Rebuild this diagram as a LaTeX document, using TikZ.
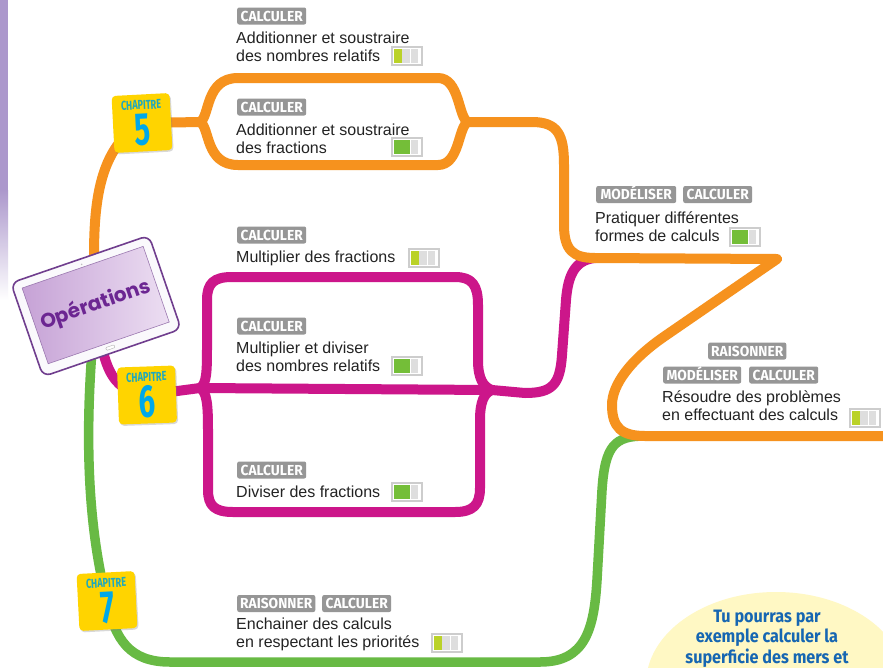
\documentclass[tikz,border=0pt]{standalone}
\usepackage{fontspec}
\setmainfont{Liberation Sans}
\newfontfamily\tagfont[FakeStretch=0.95]{Fira Sans}
\newfontfamily\chapfont[FakeStretch=0.7]{Fira Sans}
\newfontfamily\numfont[FakeStretch=0.64]{Fira Sans}
\newfontfamily\bubfont[FakeStretch=0.9]{Fira Sans}
\newfontfamily\tabfont{Poppins}
\usetikzlibrary{calc,shadows}
\definecolor{orng}{RGB}{246,146,30}
\definecolor{mgnt}{RGB}{204,22,138}
\definecolor{grn}{RGB}{104,186,68}
\definecolor{bdg}{RGB}{255,212,0}
\definecolor{chapteal}{RGB}{30,168,190}
\definecolor{chapcyan}{RGB}{0,168,232}
\definecolor{taggray}{RGB}{150,150,150}
\definecolor{txtgray}{RGB}{35,35,35}
\definecolor{bubyel}{RGB}{255,248,196}
\definecolor{bubblue}{RGB}{22,102,178}
\definecolor{tabpurple}{RGB}{112,62,142}
\definecolor{tabtxt}{RGB}{108,38,146}
\definecolor{scrL}{RGB}{198,162,214}
\definecolor{scrR}{RGB}{236,222,242}
\definecolor{tabwhite}{RGB}{250,249,252}
\definecolor{strip}{RGB}{172,152,204}
\definecolor{lvon1}{RGB}{186,210,40}
\definecolor{lvon2}{RGB}{116,190,56}
\definecolor{lvoff}{RGB}{222,222,222}
\definecolor{lvborder}{RGB}{205,205,205}
\newcommand\txtlines[1]{\begin{tabular}[t]{@{}l@{}}#1\end{tabular}}
\newcommand\lvl[4]{%
  \node[lvlbox] (#1) at (#2,#3) {};
  \foreach \k in {0,1,2}{%
    \ifnum\k<#4\relax\def\lvc{lvon#4}\else\def\lvc{lvoff}\fi
    \fill[fill=\lvc] ($(#1.west)+({2.6+\k*8.4},-7)$) rectangle +(7.6,14);
  }%
}
\pgfdeclarelayer{back}
\pgfdeclarelayer{lines}
\pgfsetlayers{back,lines,main}
\tikzset{
  oline/.style={line width=10pt, draw=orng, line cap=round, line join=round},
  mline/.style={line width=10pt, draw=mgnt, line cap=round, line join=round},
  gline/.style={line width=9.5pt, draw=grn, line cap=round, line join=round},
  badge/.style={fill=bdg, rounded corners=4pt, minimum width=58pt, minimum height=57pt, inner sep=0pt,
    drop shadow={shadow xshift=1.2pt, shadow yshift=-1.5pt, opacity=0.3}},
  chaptxt/.style={text=chapteal, inner sep=0pt, font=\chapfont\bfseries\fontsize{13}{13}\selectfont},
  chapnum/.style={text=chapcyan, inner sep=0pt, font=\numfont\bfseries\fontsize{46}{46}\selectfont},
  tagbox/.style={fill=taggray, text=white, rounded corners=2pt, inner xsep=3pt, inner ysep=0pt,
    minimum height=17pt, minimum width=#1, text height=10.3pt, text depth=0pt, anchor=west,
    font=\tagfont\bfseries\fontsize{14.5}{15}\selectfont},
  tagbox/.default=69pt,
  item/.style={anchor=base west, inner sep=0pt, text=txtgray, font=\fontsize{16}{18}\selectfont},
  lvlbox/.style={draw=lvborder, line width=1.2pt, fill=white, minimum width=30pt, minimum height=18pt, inner sep=0pt},
  tabframe/.style={fill=tabwhite, draw=tabpurple, line width=1.6pt, rounded corners=8pt,
    minimum width=146pt, minimum height=99pt, inner sep=0pt},
  tabscreen/.style={left color=scrL, right color=scrR, draw=tabpurple!70, line width=0.6pt,
    minimum width=128pt, minimum height=80pt, inner sep=0pt},
  tabbtn/.style={draw=black!30, fill=white, rounded corners=1pt, minimum width=9pt, minimum height=3pt, inner sep=0pt},
  tabcam/.style={circle, fill=black!25, minimum size=1.8pt, inner sep=0pt},
  tabtext/.style={text=tabtxt, inner sep=0pt, font=\tabfont\bfseries\fontsize{20}{20}\selectfont},
  bubtext/.style={anchor=base, inner sep=0pt, text=bubblue, font=\bubfont\bfseries\fontsize{18}{20.5}\selectfont},
}
\begin{document}
\begin{tikzpicture}[x=1pt,y=-1pt]
\useasboundingbox (0,0) rectangle (883,667);
\begin{pgfonlayer}{back}
  \fill[white] (0,0) rectangle (883,667);
  \fill[strip] (0,0) rectangle (8,190);
  \shade[top color=strip, bottom color=white] (0,190) rectangle (8,300);
  \fill[bubyel] (776,684) ellipse [x radius=130pt, y radius=92pt];
\end{pgfonlayer}

% junction coordinates
\coordinate (o5fork) at (200,122);
\coordinate (o5join) at (468,122);
\coordinate (opm) at (595,258);
\coordinate (otip) at (777,259);
\coordinate (ogm) at (645,436);
\coordinate (oend) at (895,436);
\coordinate (m6fork) at (200,388);
\coordinate (m6join) at (492,390);

% tablet
\begin{scope}[shift={(96,306)}, rotate=19, transform shape]
  \node[tabframe] (tab) at (0,0) {};
  \node[tabscreen] (scr) at (0,-1) {};
  \node[tabbtn] (btn) at (0,44) {};
  \node[tabcam] (cam) at (0,-44) {};
  \node[tabtext] (op) at (0,-1) {Opérations};
\end{scope}

% chapter badges
\begin{scope}[shift={(142,123)}, rotate=3, transform shape]
  \node[badge] (b5) at (0,0) {};
  \node[chaptxt] (b5t) at (0,-18) {CHAPITRE};
  \node[chapnum] (b5n) at (0,7) {5};
\end{scope}
\begin{scope}[shift={(147,395)}, rotate=2, transform shape]
  \node[badge] (b6) at (0,0) {};
  \node[chaptxt] (b6t) at (0,-18) {CHAPITRE};
  \node[chapnum] (b6n) at (0,7) {6};
\end{scope}
\begin{scope}[shift={(107,601)}, rotate=3, transform shape]
  \node[badge] (b7) at (0,0) {};
  \node[chaptxt] (b7t) at (0,-18) {CHAPITRE};
  \node[chapnum] (b7n) at (0,7) {7};
\end{scope}

% connectors
\begin{pgfonlayer}{lines}
  % green
  \draw[gline] (tab.center) .. controls (84,420) and (86,520) .. (b7.center)
     .. controls (115,640) and (130,662) .. (170,662) -- (540,662)
     .. controls (585,662) and (594,630) .. (597,580) -- (602,490)
     .. controls (605,445) and (615,436) .. (ogm);
  % magenta
  \draw[mline] (tab.center) .. controls (102,360) and (108,392) .. (b6.center);
  \draw[mline] (b6.center) -- (m6fork);
  \draw[mline] (m6fork) .. controls (207,384) and (207,370) .. (207,345) -- (207,300)
     .. controls (207,283) and (214,277) .. (232,277) -- (455,277)
     .. controls (472,277) and (478,285) .. (478,305) -- (478,360)
     .. controls (478,378) and (483,387) .. (m6join);
  \draw[mline] (m6fork) -- (m6join);
  \draw[mline] (m6fork) .. controls (207,392) and (208,405) .. (208,430) -- (208,490)
     .. controls (208,506) and (215,512) .. (233,512) -- (455,512)
     .. controls (473,512) and (480,505) .. (480,488) -- (480,420)
     .. controls (480,402) and (484,393) .. (m6join);
  \draw[mline] (m6join) -- (525,393) .. controls (552,393) and (560,385) .. (562,355)
     -- (566,300) .. controls (568,275) and (575,260) .. (opm);
  % orange
  \draw[oline] (tab.center) .. controls (90,210) and (96,150) .. (b5.center);
  \draw[oline] (b5.center) -- (o5fork);
  \draw[oline] (o5fork) .. controls (210,117) and (205,78) .. (238,78) -- (438,78)
     .. controls (460,78) and (458,118) .. (o5join);
  \draw[oline] (o5fork) .. controls (210,127) and (205,165) .. (238,165) -- (438,165)
     .. controls (460,165) and (458,126) .. (o5join);
  \draw[oline] (o5join) -- (532,122) .. controls (558,122) and (564,135) .. (564,165)
     -- (564,225) .. controls (564,250) and (573,258) .. (opm) -- (otip)
     -- (665,336) .. controls (630,360) and (612,385) .. (612,405)
     .. controls (612,427) and (621,436) .. (ogm) -- (oend);
\end{pgfonlayer}

% tags
\node[tagbox] (g1) at (237,16) {CALCULER};
\node[tagbox] (g2) at (237,107) {CALCULER};
\node[tagbox=80pt] (g3a) at (596,194.5) {MODÉLISER};
\node[tagbox] (g3b) at (683,194.5) {CALCULER};
\node[tagbox=77pt] (g4a) at (708,351) {RAISONNER};
\node[tagbox=78pt] (g4b) at (663,375) {MODÉLISER};
\node[tagbox] (g4c) at (749,375) {CALCULER};
\node[tagbox] (g5) at (237,235) {CALCULER};
\node[tagbox] (g6) at (237,326) {CALCULER};
\node[tagbox] (g7) at (237,470) {CALCULER};
\node[tagbox=78pt] (g8a) at (237,603.5) {RAISONNER};
\node[tagbox] (g8b) at (322,603.5) {CALCULER};

% texts
\node[item] (t1) at (236,43) {\txtlines{Additionner et soustraire\\des nombres relatifs}};
\node[item] (t2) at (236,135) {\txtlines{Additionner et soustraire\\des fractions}};
\node[item] (t3) at (595,223) {\txtlines{Pratiquer différentes\\formes de calculs}};
\node[item] (t4) at (662,402) {\txtlines{Résoudre des problèmes\\en effectuant des calculs}};
\node[item] (t5) at (236,262) {\txtlines{Multiplier des fractions}};
\node[item] (t6) at (236,353) {\txtlines{Multiplier et diviser\\des nombres relatifs}};
\node[item] (t7) at (236,497) {\txtlines{Diviser des fractions}};
\node[item] (t8) at (236,629) {\txtlines{Enchainer des calculs\\en respectant les priorités}};

% level indicators
\lvl{l1}{407}{56}{1}
\lvl{l2}{407}{147}{2}
\lvl{l3}{745}{237}{2}
\lvl{l4}{865}{418}{1}
\lvl{l5}{424}{258}{1}
\lvl{l6}{407}{366}{2}
\lvl{l7}{407}{492}{2}
\lvl{l8}{447}{643}{1}

% bubble text
\node[bubtext] (bub) at (767,622) {\begin{tabular}[t]{@{}c@{}}Tu pourras par\\exemple calculer la\\superficie des mers et\end{tabular}};
\end{tikzpicture}
\end{document}
